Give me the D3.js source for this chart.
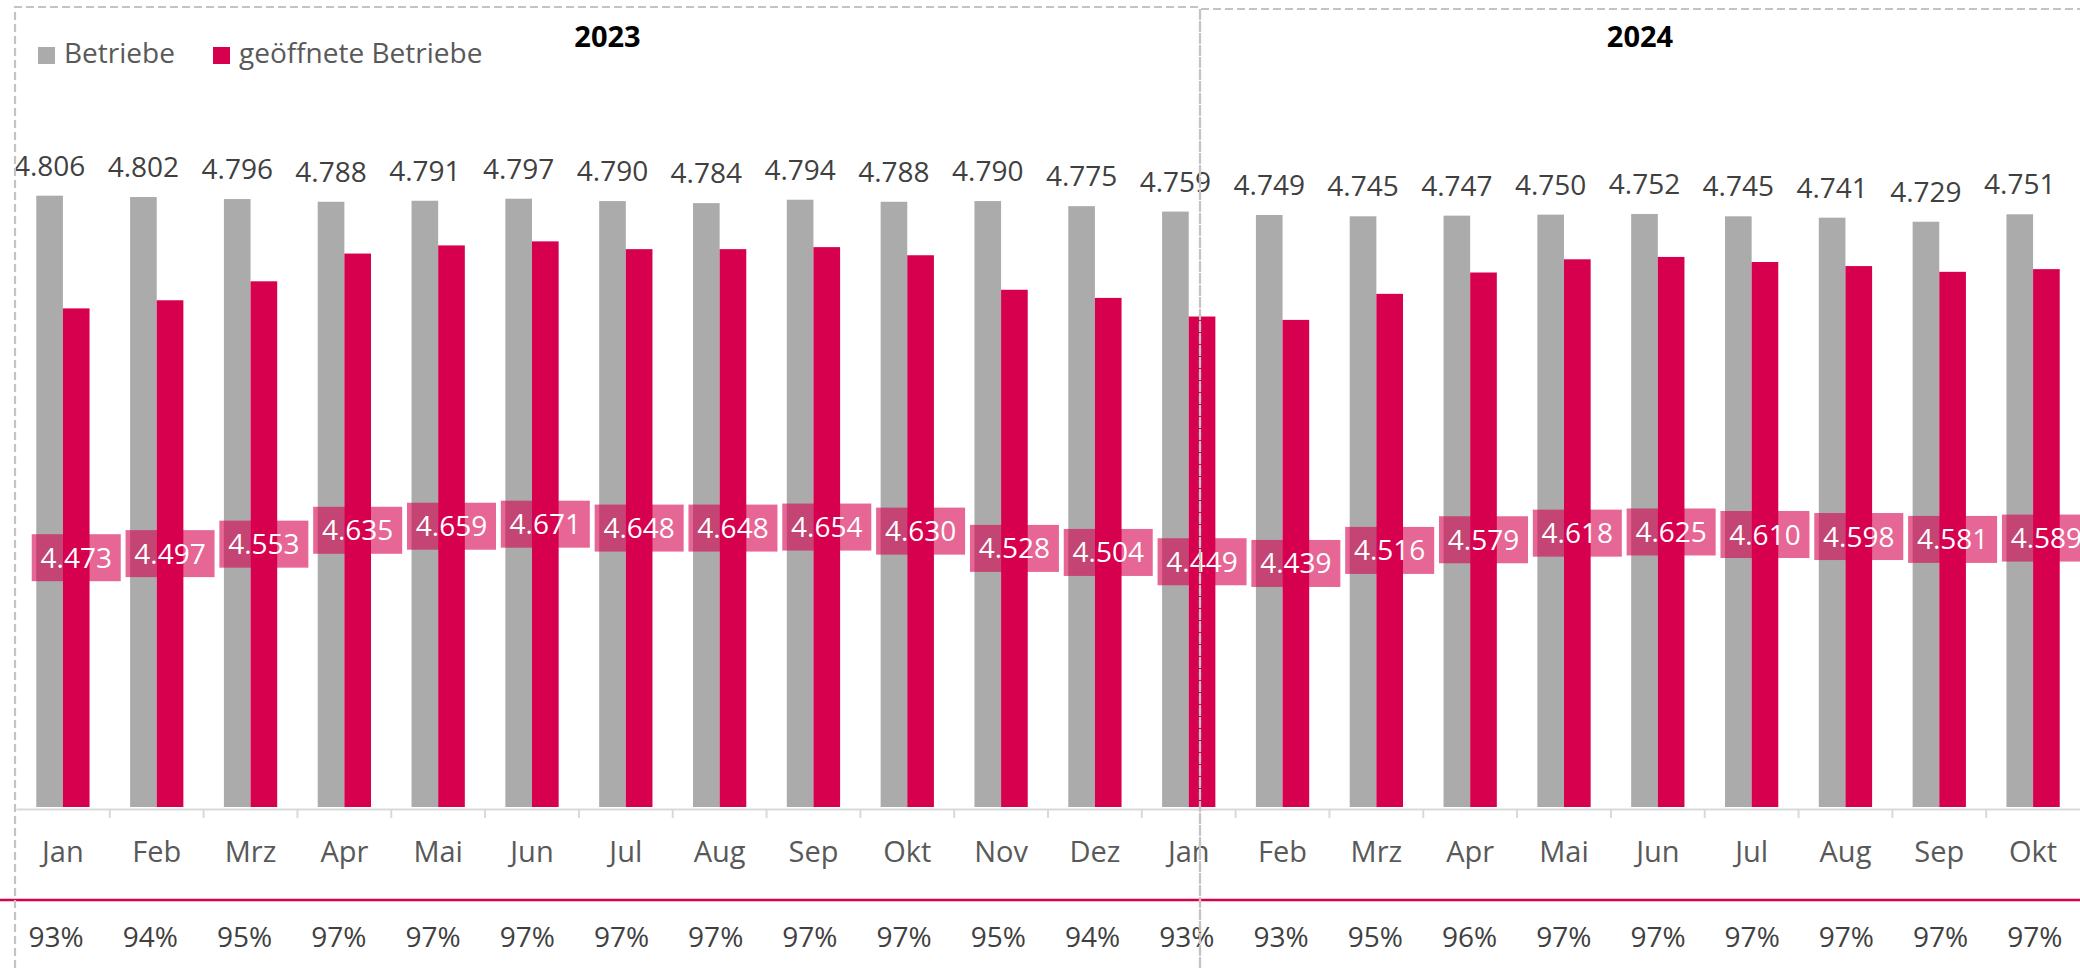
<!DOCTYPE html>
<meta charset="utf-8">
<style>
  body { margin: 0; background: #fff; }
  text { font-family: "Open Sans", "Noto Sans", sans-serif; }
</style>
<svg width="2080" height="968"></svg>
<script src="https://cdn.jsdelivr.net/npm/d3@7"></script>
<script>

var months = ["Jan", "Feb", "Mrz", "Apr", "Mai", "Jun", "Jul", "Aug", "Sep", "Okt", "Nov", "Dez",
              "Jan", "Feb", "Mrz", "Apr", "Mai", "Jun", "Jul", "Aug", "Sep", "Okt"];
var betriebe = [4806, 4802, 4796, 4788, 4791, 4797, 4790, 4784, 4794, 4788, 4790, 4775,
                4759, 4749, 4745, 4747, 4750, 4752, 4745, 4741, 4729, 4751];
var geoeffnet = [4473, 4497, 4553, 4635, 4659, 4671, 4648, 4648, 4654, 4630, 4528, 4504,
                 4449, 4439, 4516, 4579, 4618, 4625, 4610, 4598, 4581, 4589];
var quote = ["93%", "94%", "95%", "97%", "97%", "97%", "97%", "97%", "97%", "97%", "95%", "94%",
             "93%", "93%", "95%", "96%", "97%", "97%", "97%", "97%", "97%", "97%"];
var years = ["2023", "2024"];
var seriesNames = ["Betriebe", "geöffnete Betriebe"];

var grey = "#ababab",
    pink = "#d6004f",
    fmt = d3.format(",d"),
    de = function (v) { return fmt(v).replace(",", "."); };

var svg = d3.select("svg"),
    idx = d3.range(months.length);

var x = d3.scaleBand().domain(idx).range([16, 2080]),
    xq = d3.scaleBand().domain(idx).range([9, 2082]),
    y = d3.scaleLinear().domain([3000, 5000]).range([807, 130]),
    y2 = d3.scaleLinear().domain([3000, 7000]).range([807, 130]),
    colour = d3.scaleOrdinal().domain(seriesNames).range([grey, pink]);

var bw = x.bandwidth() * 0.284;

// bars
var g = svg.append("g");
g.selectAll(".b").data(idx).enter().append("rect")
    .attr("x", function (i) { return x(i) + x.bandwidth() / 2 - bw; })
    .attr("y", function (i) { return y(betriebe[i]); })
    .attr("width", bw)
    .attr("height", function (i) { return y(3000) - y(betriebe[i]); })
    .attr("fill", grey);

g.selectAll(".o").data(idx).enter().append("rect")
    .attr("x", function (i) { return x(i) + x.bandwidth() / 2; })
    .attr("y", function (i) { return y(geoeffnet[i]); })
    .attr("width", bw)
    .attr("height", function (i) { return y(3000) - y(geoeffnet[i]); })
    .attr("fill", pink);

// labels on top of grey bars
g.selectAll(".bl").data(idx).enter().append("text")
    .attr("x", function (i) { return x(i) + x.bandwidth() / 2 - bw / 2; })
    .attr("y", function (i) { return y(betriebe[i]) - 20; })
    .attr("text-anchor", "middle")
    .attr("font-size", 28)
    .attr("fill", "#404040")
    .text(function (i) { return de(betriebe[i]); });

// axis
var axis = svg.append("g")
    .attr("transform", "translate(0,809)")
    .call(d3.axisBottom(x).tickSize(0).tickSizeOuter(0).tickPadding(32)
      .tickFormat(function (i) { return months[i]; }));
axis.select(".domain").attr("stroke", "#d9d9d9").attr("stroke-width", 2);
axis.selectAll("text")
    .attr("font-size", 29)
    .attr("fill", "#595959")
    .style("font-family", "'Open Sans', sans-serif");

axis.selectAll(".sep").data(idx.slice(1)).enter().append("line")
    .attr("x1", function (i) { return x(i); })
    .attr("x2", function (i) { return x(i); })
    .attr("y1", 0).attr("y2", 9)
    .attr("stroke", "#d9d9d9").attr("stroke-width", 2);

// labels of the open businesses
var lab = svg.append("g");
var boxW = 89, boxH = 47;
idx.forEach(function (i) {
  var cx = x(i) + x.bandwidth() / 2 + bw / 2,
      cy = y2(geoeffnet[i]);
  lab.append("rect")
      .attr("x", cx - boxW / 2).attr("y", cy - boxH / 2)
      .attr("width", boxW).attr("height", boxH)
      .attr("fill", pink).attr("fill-opacity", 0.6);
  lab.append("text")
      .attr("x", cx).attr("y", cy + 10)
      .attr("text-anchor", "middle")
      .attr("font-size", 28)
      .attr("fill", "#fff")
      .text(de(geoeffnet[i]));
});

// percentage row
svg.append("line")
    .attr("x1", 0).attr("x2", 2080).attr("y1", 900).attr("y2", 900)
    .attr("stroke", pink).attr("stroke-width", 2.5);

svg.append("g").selectAll("text").data(idx).enter().append("text")
    .attr("x", function (i) { return xq(i) + xq.bandwidth() / 2; })
    .attr("y", 947)
    .attr("text-anchor", "middle")
    .attr("font-size", 28)
    .attr("fill", "#404040")
    .text(function (i) { return quote[i]; });

// legend
var leg = svg.append("g").selectAll("g").data(seriesNames).enter().append("g")
    .attr("transform", function (d, i) { return "translate(" + [38, 213][i] + ",0)"; });
leg.append("rect")
    .attr("x", 0).attr("y", 47).attr("width", 17).attr("height", 17)
    .attr("fill", function (d) { return colour(d); });
leg.append("text")
    .attr("x", 26).attr("y", 63)
    .attr("font-size", 28)
    .attr("fill", "#595959")
    .text(function (d) { return d; });

// year frames
var frames = [
  {label: years[0], x0: 15, x1: 1200, top: 7},
  {label: years[1], x0: 1200, x1: 2080, top: 9}
];
var fr = svg.append("g");
frames.forEach(function (f) {
  fr.append("path")
      .attr("d", "M" + f.x0 + ",968V" + f.top + "H" + f.x1 + (f.x1 < 2080 ? "V968" : ""))
      .attr("fill", "none")
      .attr("stroke", "#c4c4c4")
      .attr("stroke-width", 2.2)
      .attr("stroke-dasharray", "8,4");
  fr.append("text")
      .attr("x", (f.x0 + f.x1) / 2).attr("y", 47)
      .attr("text-anchor", "middle")
      .attr("font-size", 29)
      .attr("font-weight", "bold")
      .attr("fill", "#000")
      .text(f.label);
});

</script>
